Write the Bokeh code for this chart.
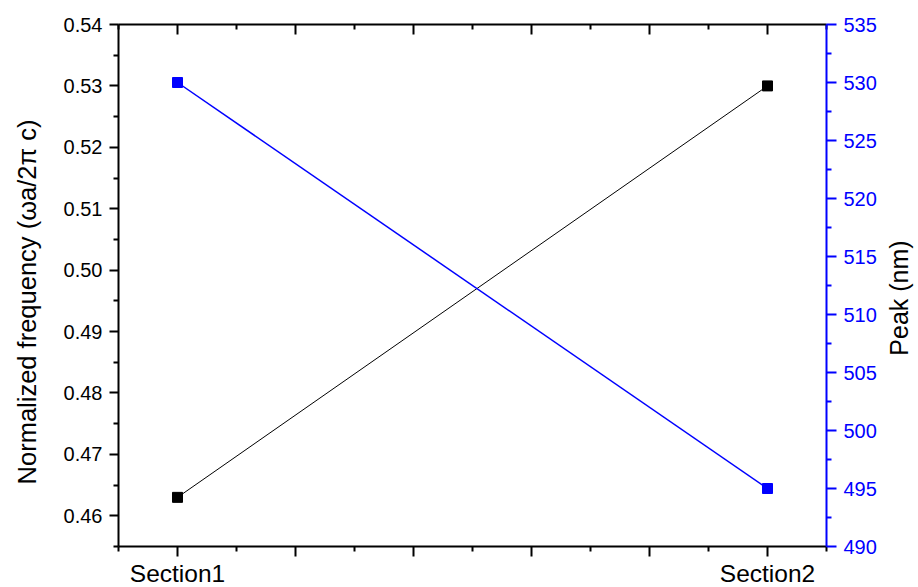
import math
from bokeh.plotting import figure
from bokeh.models import (Range1d, LinearAxis, FixedTicker, NumeralTickFormatter, Label)
from bokeh.embed import file_html
from bokeh.resources import INLINE

# ---- data ----
categories = ["Section1", "Section2"]
x_pos = [1, 2]
norm_freq = [0.463, 0.530]
peak_nm = [530, 495]

x_major = [1.0, 1.2, 1.4, 1.6, 1.8, 2.0]
x_minor = [0.9, 1.1, 1.3, 1.5, 1.7, 1.9, 2.1]
left_major = [0.46, 0.47, 0.48, 0.49, 0.50, 0.51, 0.52, 0.53, 0.54]
left_minor = [0.455, 0.465, 0.475, 0.485, 0.495, 0.505, 0.515, 0.525, 0.535]
right_major = [490, 495, 500, 505, 510, 515, 520, 525, 530, 535]
right_minor = [492.5, 497.5, 502.5, 507.5, 512.5, 517.5, 522.5, 527.5, 532.5]

left_title = "Normalized frequency (ωa/2π c)"
right_title = "Peak (nm)"

FONT = "Liberation Sans"
BLUE = "#0000ff"

p = figure(frame_width=708, frame_height=522,
           x_range=Range1d(0.9, 2.1), y_range=Range1d(0.455, 0.54),
           output_backend="svg", toolbar_location=None,
           min_border_left=118, min_border_right=90,
           min_border_top=24, min_border_bottom=41,
           x_axis_location=None, y_axis_location=None)
p.extra_y_ranges = {"right": Range1d(490, 535)}
p.grid.visible = False
p.outline_line_color = None
p.background_fill_color = "white"
p.border_fill_color = "white"

overrides = {}
for t in x_major:
    overrides[t] = ""
for xp, c in zip(x_pos, categories):
    overrides[float(xp)] = c

def style_axis(ax, color="black"):
    ax.axis_line_color = color
    ax.axis_line_width = 2
    ax.major_tick_line_color = color
    ax.minor_tick_line_color = color
    ax.major_tick_line_width = 2
    ax.minor_tick_line_width = 2
    ax.major_label_text_font = FONT
    ax.major_label_text_color = color

# bottom axis
xb = LinearAxis(ticker=FixedTicker(ticks=x_major, minor_ticks=x_minor))
style_axis(xb)
xb.major_label_overrides = overrides
xb.major_label_text_font_size = "24.5px"
xb.major_tick_out = 10
xb.major_tick_in = 0
xb.minor_tick_out = 5
xb.minor_tick_in = 0
xb.major_label_standoff = 3
p.add_layout(xb, "below")

# top axis (mirror, inward ticks)
xt = LinearAxis(ticker=FixedTicker(ticks=x_major, minor_ticks=x_minor))
style_axis(xt)
xt.major_label_text_font_size = "0px"
xt.major_label_text_alpha = 0
xt.major_tick_out = 0
xt.major_tick_in = 10
xt.minor_tick_out = 0
xt.minor_tick_in = 5
xt.major_label_standoff = 0
p.add_layout(xt, "above")

# left axis
yl = LinearAxis(ticker=FixedTicker(ticks=left_major, minor_ticks=left_minor),
                formatter=NumeralTickFormatter(format="0.00"))
style_axis(yl)
yl.major_label_text_font_size = "20px"
yl.major_tick_out = 9
yl.major_tick_in = 0
yl.minor_tick_out = 5
yl.minor_tick_in = 0
yl.major_label_standoff = 7
p.add_layout(yl, "left")

# right axis
yr = LinearAxis(y_range_name="right",
                ticker=FixedTicker(ticks=right_major, minor_ticks=right_minor))
style_axis(yr, BLUE)
yr.major_label_text_font_size = "20px"
yr.major_tick_out = 10
yr.major_tick_in = 0
yr.minor_tick_out = 5
yr.minor_tick_in = 0
yr.major_label_standoff = 7
p.add_layout(yr, "right")

# axis titles (rotated, reading bottom-to-top), placed in the side panels
p.add_layout(Label(x=-6, y=244.5, x_units="screen", y_units="screen",
                   text=left_title, angle=math.pi / 2, angle_units="rad",
                   text_font=FONT, text_font_size="25.5px", text_color="black",
                   text_align="center", text_baseline="middle"), "left")
p.add_layout(Label(x=19, y=248.5, x_units="screen", y_units="screen",
                   text=right_title, angle=math.pi / 2, angle_units="rad",
                   text_font=FONT, text_font_size="25px", text_color="black",
                   text_align="center", text_baseline="middle"), "right")

# series
p.line(x_pos, norm_freq, line_color="black", line_width=1)
p.scatter(x_pos, norm_freq, marker="square", size=10, fill_color="black", line_color="black")
p.line(x_pos, peak_nm, line_color=BLUE, line_width=1.5, y_range_name="right")
p.scatter(x_pos, peak_nm, marker="square", size=10, fill_color=BLUE, line_color=BLUE,
          y_range_name="right")

open("out.html", "w").write(file_html(p, INLINE))
